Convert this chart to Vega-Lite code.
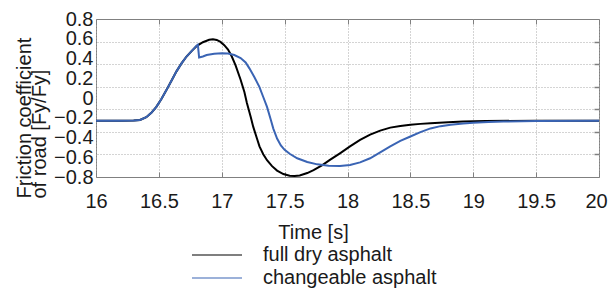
{
  "$schema": "https://vega.github.io/schema/vega-lite/v6.json",
  "width": 503,
  "height": 158,
  "autosize": "none",
  "padding": {"left": 96, "top": 19, "right": 9, "bottom": 112},
  "config": {
    "font": "Liberation Sans",
    "view": {"stroke": "#808080", "strokeWidth": 1},
    "axis": {"labelColor": "#1a1a1a", "titleColor": "#1a1a1a", "tickColor": "#808080", "gridColor": "#a8a8a8", "gridDash": [1, 2], "gridWidth": 1}
  },
  "data": {
    "values": [
      {"s": "full dry asphalt", "t": 16.0, "v": -0.23},
      {"s": "full dry asphalt", "t": 16.2, "v": -0.23},
      {"s": "full dry asphalt", "t": 16.3, "v": -0.228},
      {"s": "full dry asphalt", "t": 16.35, "v": -0.222},
      {"s": "full dry asphalt", "t": 16.4, "v": -0.195},
      {"s": "full dry asphalt", "t": 16.44, "v": -0.15},
      {"s": "full dry asphalt", "t": 16.48, "v": -0.09},
      {"s": "full dry asphalt", "t": 16.52, "v": -0.01},
      {"s": "full dry asphalt", "t": 16.56, "v": 0.08},
      {"s": "full dry asphalt", "t": 16.6, "v": 0.175},
      {"s": "full dry asphalt", "t": 16.64, "v": 0.27},
      {"s": "full dry asphalt", "t": 16.68, "v": 0.35},
      {"s": "full dry asphalt", "t": 16.72, "v": 0.42},
      {"s": "full dry asphalt", "t": 16.76, "v": 0.475},
      {"s": "full dry asphalt", "t": 16.8, "v": 0.525},
      {"s": "full dry asphalt", "t": 16.85, "v": 0.565},
      {"s": "full dry asphalt", "t": 16.9, "v": 0.59},
      {"s": "full dry asphalt", "t": 16.93, "v": 0.595},
      {"s": "full dry asphalt", "t": 16.96, "v": 0.588},
      {"s": "full dry asphalt", "t": 16.99, "v": 0.568},
      {"s": "full dry asphalt", "t": 17.02, "v": 0.535},
      {"s": "full dry asphalt", "t": 17.05, "v": 0.49},
      {"s": "full dry asphalt", "t": 17.08, "v": 0.42},
      {"s": "full dry asphalt", "t": 17.11, "v": 0.33},
      {"s": "full dry asphalt", "t": 17.15, "v": 0.185},
      {"s": "full dry asphalt", "t": 17.18, "v": 0.06},
      {"s": "full dry asphalt", "t": 17.2, "v": -0.05},
      {"s": "full dry asphalt", "t": 17.23, "v": -0.19},
      {"s": "full dry asphalt", "t": 17.25, "v": -0.29},
      {"s": "full dry asphalt", "t": 17.28, "v": -0.41},
      {"s": "full dry asphalt", "t": 17.3, "v": -0.49},
      {"s": "full dry asphalt", "t": 17.33, "v": -0.57},
      {"s": "full dry asphalt", "t": 17.36, "v": -0.63},
      {"s": "full dry asphalt", "t": 17.4, "v": -0.69},
      {"s": "full dry asphalt", "t": 17.44, "v": -0.735},
      {"s": "full dry asphalt", "t": 17.49, "v": -0.77},
      {"s": "full dry asphalt", "t": 17.54, "v": -0.787},
      {"s": "full dry asphalt", "t": 17.58, "v": -0.79},
      {"s": "full dry asphalt", "t": 17.62, "v": -0.785},
      {"s": "full dry asphalt", "t": 17.68, "v": -0.76},
      {"s": "full dry asphalt", "t": 17.73, "v": -0.73},
      {"s": "full dry asphalt", "t": 17.8, "v": -0.68},
      {"s": "full dry asphalt", "t": 17.86, "v": -0.627},
      {"s": "full dry asphalt", "t": 17.94, "v": -0.56},
      {"s": "full dry asphalt", "t": 18.02, "v": -0.49},
      {"s": "full dry asphalt", "t": 18.1, "v": -0.425},
      {"s": "full dry asphalt", "t": 18.18, "v": -0.37},
      {"s": "full dry asphalt", "t": 18.26, "v": -0.33},
      {"s": "full dry asphalt", "t": 18.34, "v": -0.3},
      {"s": "full dry asphalt", "t": 18.42, "v": -0.283},
      {"s": "full dry asphalt", "t": 18.5, "v": -0.27},
      {"s": "full dry asphalt", "t": 18.58, "v": -0.262},
      {"s": "full dry asphalt", "t": 18.66, "v": -0.255},
      {"s": "full dry asphalt", "t": 18.8, "v": -0.245},
      {"s": "full dry asphalt", "t": 18.92, "v": -0.238},
      {"s": "full dry asphalt", "t": 19.1, "v": -0.233},
      {"s": "full dry asphalt", "t": 19.5, "v": -0.23},
      {"s": "full dry asphalt", "t": 20.0, "v": -0.23},
      {"s": "changeable asphalt", "t": 16.0, "v": -0.23},
      {"s": "changeable asphalt", "t": 16.2, "v": -0.23},
      {"s": "changeable asphalt", "t": 16.3, "v": -0.228},
      {"s": "changeable asphalt", "t": 16.35, "v": -0.222},
      {"s": "changeable asphalt", "t": 16.4, "v": -0.195},
      {"s": "changeable asphalt", "t": 16.44, "v": -0.15},
      {"s": "changeable asphalt", "t": 16.48, "v": -0.09},
      {"s": "changeable asphalt", "t": 16.52, "v": -0.01},
      {"s": "changeable asphalt", "t": 16.56, "v": 0.08},
      {"s": "changeable asphalt", "t": 16.6, "v": 0.175},
      {"s": "changeable asphalt", "t": 16.64, "v": 0.27},
      {"s": "changeable asphalt", "t": 16.68, "v": 0.35},
      {"s": "changeable asphalt", "t": 16.72, "v": 0.42},
      {"s": "changeable asphalt", "t": 16.76, "v": 0.475},
      {"s": "changeable asphalt", "t": 16.8, "v": 0.53},
      {"s": "changeable asphalt", "t": 16.81, "v": 0.54},
      {"s": "changeable asphalt", "t": 16.82, "v": 0.41},
      {"s": "changeable asphalt", "t": 16.85, "v": 0.42},
      {"s": "changeable asphalt", "t": 16.88, "v": 0.435},
      {"s": "changeable asphalt", "t": 16.94, "v": 0.448},
      {"s": "changeable asphalt", "t": 17.0, "v": 0.452},
      {"s": "changeable asphalt", "t": 17.05, "v": 0.45},
      {"s": "changeable asphalt", "t": 17.1, "v": 0.435},
      {"s": "changeable asphalt", "t": 17.15, "v": 0.405},
      {"s": "changeable asphalt", "t": 17.19, "v": 0.36},
      {"s": "changeable asphalt", "t": 17.22, "v": 0.3},
      {"s": "changeable asphalt", "t": 17.26, "v": 0.21},
      {"s": "changeable asphalt", "t": 17.3, "v": 0.11},
      {"s": "changeable asphalt", "t": 17.33, "v": 0.01},
      {"s": "changeable asphalt", "t": 17.36, "v": -0.09},
      {"s": "changeable asphalt", "t": 17.39, "v": -0.22},
      {"s": "changeable asphalt", "t": 17.41, "v": -0.31},
      {"s": "changeable asphalt", "t": 17.44, "v": -0.41},
      {"s": "changeable asphalt", "t": 17.47, "v": -0.48},
      {"s": "changeable asphalt", "t": 17.5, "v": -0.525},
      {"s": "changeable asphalt", "t": 17.54, "v": -0.565},
      {"s": "changeable asphalt", "t": 17.6, "v": -0.61},
      {"s": "changeable asphalt", "t": 17.68, "v": -0.648},
      {"s": "changeable asphalt", "t": 17.76, "v": -0.672},
      {"s": "changeable asphalt", "t": 17.85, "v": -0.685},
      {"s": "changeable asphalt", "t": 17.94, "v": -0.688},
      {"s": "changeable asphalt", "t": 18.02, "v": -0.678},
      {"s": "changeable asphalt", "t": 18.1, "v": -0.652},
      {"s": "changeable asphalt", "t": 18.18, "v": -0.61},
      {"s": "changeable asphalt", "t": 18.26, "v": -0.55},
      {"s": "changeable asphalt", "t": 18.34, "v": -0.49},
      {"s": "changeable asphalt", "t": 18.42, "v": -0.435},
      {"s": "changeable asphalt", "t": 18.5, "v": -0.39},
      {"s": "changeable asphalt", "t": 18.58, "v": -0.345},
      {"s": "changeable asphalt", "t": 18.66, "v": -0.308},
      {"s": "changeable asphalt", "t": 18.74, "v": -0.285},
      {"s": "changeable asphalt", "t": 18.82, "v": -0.27},
      {"s": "changeable asphalt", "t": 18.92, "v": -0.258},
      {"s": "changeable asphalt", "t": 19.0, "v": -0.25},
      {"s": "changeable asphalt", "t": 19.12, "v": -0.243},
      {"s": "changeable asphalt", "t": 19.24, "v": -0.238},
      {"s": "changeable asphalt", "t": 19.5, "v": -0.233},
      {"s": "changeable asphalt", "t": 20.0, "v": -0.23}
    ]
  },
  "layer": [
    {
      "mark": {"type": "line", "opacity": 0},
      "encoding": {
        "x": {"field": "t", "type": "quantitative", "scale": {"domain": [16, 20], "nice": false, "zero": false},
          "axis": {"orient": "top", "values": [16, 16.5, 17, 17.5, 18, 18.5, 19, 19.5, 20], "labels": false, "grid": false, "ticks": true, "tickSize": -5, "domain": false, "title": null}},
        "y": {"field": "v", "type": "quantitative", "scale": {"domain": [-0.8, 0.8], "nice": false, "zero": false},
          "axis": {"orient": "right", "values": [0.5714, 0.3429, 0.1143, -0.1143, -0.3429, -0.5714], "labels": false, "grid": true, "ticks": true, "tickSize": -5, "tickWidth": 1.5, "domain": false, "title": null}},
        "detail": {"field": "s", "type": "nominal"}
      }
    },
    {
      "mark": {"type": "line", "strokeWidth": 2},
      "encoding": {
        "x": {"field": "t", "type": "quantitative", "scale": {"domain": [16, 20], "nice": false, "zero": false},
          "axis": {"orient": "bottom", "values": [16, 16.5, 17, 17.5, 18, 18.5, 19, 19.5, 20], "format": "~g", "grid": true, "ticks": true, "tickSize": -5, "domain": false,
            "labelFontSize": 20, "labelBaseline": "alphabetic", "labelPadding": 35, "labelFlush": false, "labelBound": false, "labelOverlap": false,
            "labelOffset": {"condition": {"test": "datum.value >= 20", "value": -3}, "value": 0},
            "title": "Time [s]", "titleFontSize": 20, "titleFontWeight": "normal", "titleX": 217, "titleY": 61, "titleBaseline": "alphabetic", "titleAlign": "center", "titleAnchor": null}},
        "y": {"field": "v", "type": "quantitative", "scale": {"domain": [-0.8, 0.8], "nice": false, "zero": false},
          "axis": {"orient": "left", "values": [0.8, 0.6, 0.4, 0.2, 0, -0.2, -0.4, -0.6, -0.8], "format": "~g", "grid": false, "ticks": false, "domain": false,
            "labelFontSize": 20, "labelPadding": 3, "labelBaseline": "middle", "labelOverlap": false, "labelBound": false, "labelFlush": false,
            "title": ["Friction coefficient", "of road [Fy/Fy]"], "titleFontSize": 20, "titleFontWeight": "normal", "titleLineHeight": 15,
            "titleAngle": -90, "titleAlign": "left", "titleBaseline": "alphabetic", "titleX": -66, "titleY": 179, "titleAnchor": null}},
        "color": {"field": "s", "type": "nominal", "sort": ["full dry asphalt", "changeable asphalt"],
          "scale": {"domain": ["full dry asphalt", "changeable asphalt"], "range": ["#000000", "#3a64b4"]},
          "legend": {"orient": "none", "legendX": 111, "legendY": 226, "title": null, "symbolType": "M-5,0L5,0", "symbolSize": 100, "symbolStrokeWidth": 1.2,
            "labelFontSize": 20, "labelOffset": 36, "labelLimit": 400, "padding": 0, "rowPadding": 3, "labelColor": "#1a1a1a"}}
      }
    }
  ],
  "resolve": {"axis": {"x": "independent", "y": "independent"}}
}
